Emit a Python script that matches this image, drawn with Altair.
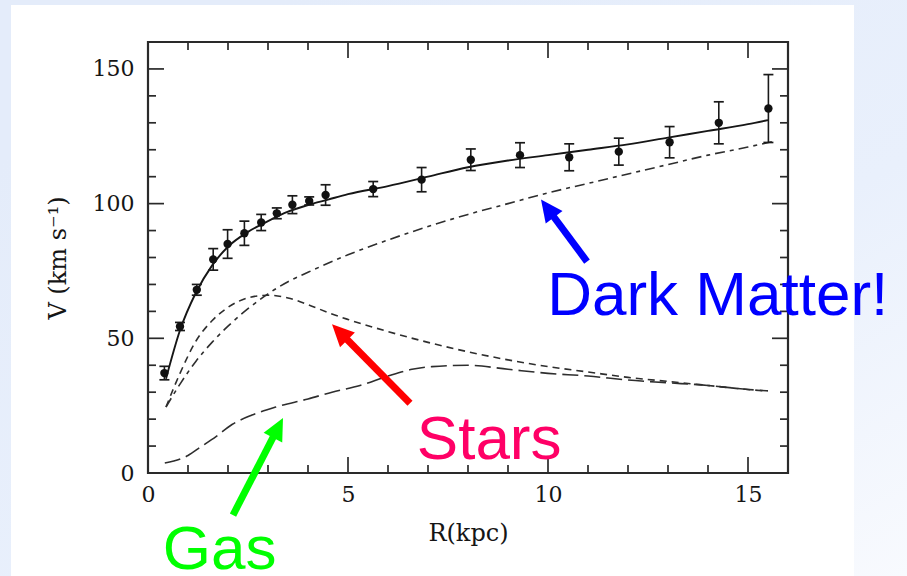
import math
import altair as alt
import pandas as pd

# ---------------- data ----------------
R_obs = [0.41, 0.80, 1.22, 1.63, 1.99, 2.41, 2.83, 3.22, 3.61, 4.03, 4.44,
         5.63, 6.84, 8.07, 9.30, 10.53, 11.77, 13.04, 14.27, 15.51]
V_obs = [37.1, 54.4, 68.0, 79.3, 85.0, 89.0, 93.0, 96.4, 99.6, 101.0, 103.2,
         105.4, 108.9, 116.3, 118.0, 117.2, 119.3, 122.8, 130.0, 135.3]
V_err = [2.5, 1.5, 2.0, 4.0, 5.3, 4.5, 3.0, 2.0, 3.3, 1.5, 3.8,
         2.8, 4.5, 4.0, 4.6, 5.0, 5.0, 5.8, 7.8, 12.6]

R_total = [0.45, 0.8, 1.2, 1.6, 2.0, 2.5, 3.0, 3.5, 4.0, 4.5, 5.0, 6.0, 7.0,
           8.0, 9.0, 10.0, 11.0, 12.0, 13.0, 14.0, 15.0, 15.5]
V_total = [35.0, 53.0, 67.0, 77.0, 84.0, 89.5, 93.5, 97.0, 99.5, 101.5, 103.5,
           106.5, 110.0, 113.5, 116.0, 118.0, 120.0, 122.0, 124.5, 127.0, 129.5, 131.0]

R_dm = [0.45, 0.8, 1.2, 1.6, 2.0, 2.5, 3.0, 3.5, 4.0, 5.0, 6.0, 7.0, 8.0,
        9.0, 10.0, 11.0, 12.0, 13.0, 14.0, 15.0, 15.6]
V_dm = [24.5, 33.0, 41.5, 48.5, 54.5, 61.0, 66.5, 71.0, 74.5, 81.0, 86.5, 91.5,
        96.0, 100.0, 104.0, 107.5, 111.0, 114.5, 118.0, 121.0, 123.0]

R_stars = [0.45, 0.8, 1.2, 1.6, 2.0, 2.5, 3.0, 3.5, 4.0, 4.6, 5.0, 6.0, 7.0,
           8.0, 9.0, 10.0, 11.0, 12.0, 13.0, 14.0, 15.0, 15.4]
V_stars = [24.5, 37.0, 49.0, 56.5, 61.5, 65.0, 66.0, 65.0, 62.5, 59.0, 57.0,
           52.5, 48.5, 45.0, 42.0, 39.5, 37.5, 35.5, 34.0, 32.5, 31.0, 30.5]

R_gas = [0.42, 1.0, 1.3, 1.7, 2.1, 2.6, 3.2, 4.0, 4.6, 5.3, 6.0, 6.6, 7.1,
         8.0, 9.0, 10.0, 11.0, 12.0, 13.0, 14.0, 15.0, 15.5]
V_gas = [3.7, 6.5, 9.5, 13.5, 18.0, 21.5, 24.5, 27.5, 30.0, 32.5, 36.0, 38.5,
         39.5, 40.0, 38.5, 37.0, 36.0, 34.5, 33.5, 32.5, 31.0, 30.5]

x_labels = [0, 5, 10, 15]
y_labels = [0, 50, 100, 150]
x_major = [5, 10, 15]
x_minor = [1, 2, 3, 4, 6, 7, 8, 9, 11, 12, 13, 14]
y_major = [50, 100, 150]
y_minor = [10, 20, 30, 40, 60, 70, 80, 90, 110, 120, 130, 140]

ann_text = ["Dark Matter!", "Stars", "Gas"]
ann_R = [9.98, 6.72, 0.37]
ann_V = [58.5, 5.3, -35.8]
ann_color = ["#0000FF", "#FF0066", "#00FF00"]

arrow_tail_R = [10.975, 6.55, 2.125]
arrow_tail_V = [78.5, 25.9, -15.6]
arrow_tip_R = [9.825, 4.6, 3.375]
arrow_tip_V = [101.5, 55.2, 20.4]
arrow_color = ["#0000FF", "#FF0000", "#00FF00"]

# ---------------- layout ----------------
W, H = 640, 431
PAD = {"left": 148, "top": 42, "right": 119, "bottom": 103}
XMAX, YMAX = 16, 160
PXR, PXV = W / XMAX, H / YMAX

xs = alt.Scale(domain=[0, XMAX], nice=False, zero=False)
ys = alt.Scale(domain=[0, YMAX], nice=False, zero=False)
SERIF = "DejaVu Serif"
INK = "#151515"

xaxis = alt.Axis(values=x_labels, title="R(kpc)", ticks=False, domain=False, grid=False,
                 labelFont=SERIF, labelFontSize=22, labelColor=INK, labelPadding=11,
                 labelFlush=False, titleFont=SERIF, titleFontSize=24,
                 titleFontWeight="normal", titleColor=INK, titlePadding=16, zindex=1, format="d")
yaxis = alt.Axis(values=y_labels, title="V (km s⁻¹)", ticks=False, domain=False, grid=False,
                 labelFont=SERIF, labelFontSize=22, labelColor=INK, labelPadding=14,
                 labelFlush=False, titleFont=SERIF, titleFontSize=24,
                 titleFontWeight="normal", titleColor=INK, titlePadding=22, zindex=1, format="d")

X = lambda f: alt.X(f, type="quantitative", scale=xs, axis=xaxis)
Y = lambda f: alt.Y(f, type="quantitative", scale=ys, axis=yaxis)

one = pd.DataFrame({"a": [0]})

# background of the slide and white panel
grad = alt.LinearGradient(
    gradient="linear",
    stops=[alt.GradientStop(offset=0, color="#E4ECFA"),
           alt.GradientStop(offset=0.55, color="#E9F0FC"),
           alt.GradientStop(offset=1, color="#F8FAFE")],
    x1=0.2, y1=0.1, x2=1, y2=1)
bg = alt.Chart(one).mark_rect(fill=grad).encode(
    x=alt.value(-PAD["left"]), x2=alt.value(W + PAD["right"]),
    y=alt.value(-PAD["top"]), y2=alt.value(H + PAD["bottom"]))
panel = alt.Chart(one).mark_rect(fill="white").encode(
    x=alt.value(-137), x2=alt.value(706), y=alt.value(-37), y2=alt.value(H + PAD["bottom"]))

frame = alt.Chart(one).mark_rect(fillOpacity=0, stroke="#2a2a2a", strokeWidth=2.2).encode(
    x=alt.value(0), x2=alt.value(W), y=alt.value(0), y2=alt.value(H))

def xticks(vals, L):
    d = pd.DataFrame({"R": vals})
    b = alt.Chart(d).mark_rule(color="#2a2a2a", strokeWidth=1.7).encode(
        x=X("R"), y=alt.value(H), y2=alt.value(H - L))
    t = alt.Chart(d).mark_rule(color="#2a2a2a", strokeWidth=1.7).encode(
        x=X("R"), y=alt.value(0), y2=alt.value(L))
    return [b, t]

def yticks(vals, L):
    d = pd.DataFrame({"V": vals})
    l = alt.Chart(d).mark_rule(color="#2a2a2a", strokeWidth=1.7).encode(
        y=Y("V"), x=alt.value(0), x2=alt.value(L))
    r = alt.Chart(d).mark_rule(color="#2a2a2a", strokeWidth=1.7).encode(
        y=Y("V"), x=alt.value(W), x2=alt.value(W - L))
    return [l, r]

tick_layers = xticks(x_minor, 8) + xticks(x_major, 16) + yticks(y_minor, 8) + yticks(y_major, 16)

def curve(R, V, dash=None, width=1.6, color="#2e2e2e"):
    d = pd.DataFrame({"R": R, "V": V})
    kw = dict(color=color, strokeWidth=width, interpolate="monotone")
    if dash:
        kw["strokeDash"] = dash
    return alt.Chart(d).mark_line(**kw).encode(x=X("R"), y=Y("V"))

total = curve(R_total, V_total, None, 1.9, "#161616")
dm = curve(R_dm, V_dm, [10, 5, 4, 5], 1.6)
stars = curve(R_stars, V_stars, [7, 5], 1.6)
gas = curve(R_gas, V_gas, [16, 6], 1.6)

obs = pd.DataFrame({"R": R_obs, "V": V_obs,
                    "lo": [v - e for v, e in zip(V_obs, V_err)],
                    "hi": [v + e for v, e in zip(V_obs, V_err)]})
ebar = alt.Chart(obs).mark_rule(color="#1a1a1a", strokeWidth=1.6).encode(
    x=X("R"), y=Y("lo"), y2="hi")
cap_lo = alt.Chart(obs).mark_tick(orient="horizontal", size=10, thickness=1.7,
                                  color="#1a1a1a", opacity=1).encode(x=X("R"), y=Y("lo"))
cap_hi = alt.Chart(obs).mark_tick(orient="horizontal", size=10, thickness=1.7,
                                  color="#1a1a1a", opacity=1).encode(x=X("R"), y=Y("hi"))
pts = alt.Chart(obs).mark_circle(size=70, color="#111111", opacity=1).encode(x=X("R"), y=Y("V"))

# arrows
HEAD = 22
rows = []
for tr, tv, pr, pv, c in zip(arrow_tail_R, arrow_tail_V, arrow_tip_R, arrow_tip_V, arrow_color):
    dx = (pr - tr) * PXR
    dy = -(pv - tv) * PXV
    n = math.hypot(dx, dy)
    ux, uy = dx / n, dy / n
    ang = math.degrees(math.atan2(ux, -uy)) % 360
    back = HEAD * 0.8
    er = pr - ux * back / PXR
    ev = pv + uy * back / PXV
    rows.append({"R0": tr, "V0": tv, "R1": er, "V1": ev, "Rt": pr, "Vt": pv, "ang": ang, "col": c})
arr = pd.DataFrame(rows)
shaft = alt.Chart(arr).mark_rule(strokeWidth=7, strokeCap="butt").encode(
    x=X("R0"), y=Y("V0"), x2="R1", y2="V1", color=alt.Color("col:N", scale=None))
head = alt.Chart(arr).mark_point(shape="M0,0L0.95,2L-0.95,2Z", size=(HEAD ** 2), filled=True,
                                 opacity=1, strokeWidth=0).encode(
    x=X("Rt"), y=Y("Vt"), angle=alt.Angle("ang:Q", scale=None),
    color=alt.Color("col:N", scale=None))

ann = pd.DataFrame({"R": ann_R, "V": ann_V, "t": ann_text, "col": ann_color})
texts = alt.Chart(ann).mark_text(font="Liberation Sans", fontSize=62, align="left",
                                 baseline="alphabetic").encode(
    x=X("R"), y=Y("V"), text="t:N", color=alt.Color("col:N", scale=None))

chart = alt.layer(
    bg, panel, *tick_layers, frame, gas, stars, dm, total, ebar, cap_lo, cap_hi, pts,
    shaft, head, texts
).properties(
    width=W, height=H, padding=PAD,
    autosize=alt.AutoSizeParams(type="none"),
    background="#E9F0FB",
).configure_view(stroke="transparent")

chart.save("out.html", embed_options={"renderer": "svg", "actions": False})
